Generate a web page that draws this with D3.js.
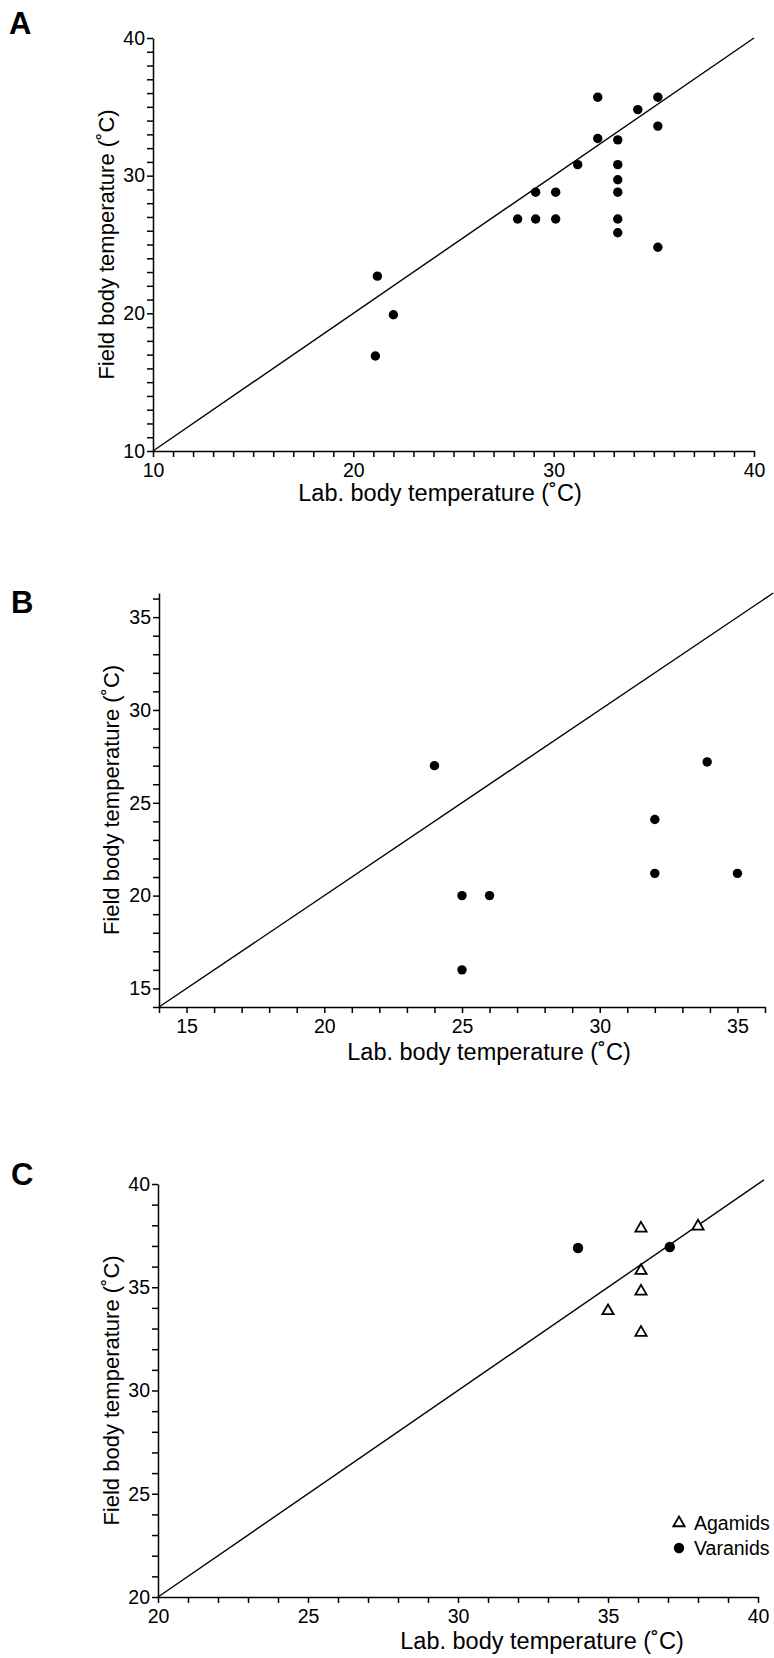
<!DOCTYPE html>
<html>
<head>
<meta charset="utf-8">
<script src="https://cdn.jsdelivr.net/npm/d3@7"></script>
<style>
  body { margin: 0; background: #fff; }
  svg { display: block; font-family: "Liberation Sans", Arial, sans-serif; }
</style>
</head>
<body>
<svg id="chart" width="774" height="1658"></svg>
<script>
// panel A
const aLab = [32.2, 35.2, 34.2, 35.2, 32.2, 33.2, 31.2, 33.2, 33.2, 33.2, 29.1, 30.1, 28.2, 29.1, 30.1, 33.2, 33.2, 35.2, 21.2, 22.0, 21.1];
const aField = [35.7, 35.7, 34.8, 33.6, 32.7, 32.6, 30.8, 30.8, 29.7, 28.8, 28.8, 28.8, 26.85, 26.85, 26.85, 26.85, 25.85, 24.8, 22.7, 19.9, 16.9];
const aTicks = [10, 20, 30, 40];

// panel B
const bLab = [24.0, 25.0, 26.0, 25.0, 33.9, 32.0, 32.0, 35.0];
const bField = [27.0, 20.0, 20.0, 16.0, 27.2, 24.1, 21.2, 21.2];
const bTicks = [15, 20, 25, 30, 35];

// panel C
const agamidLab = [36.1, 38.0, 36.1, 36.1, 35.0, 36.1];
const agamidField = [37.9, 38.0, 35.85, 34.85, 33.9, 32.85];
const varanidLab = [34.0, 37.06];
const varanidField = [36.9, 36.95];
const cTicks = [20, 25, 30, 35, 40];

const legendNames = ["Agamids", "Varanids"];

const svg = d3.select("#chart");
const xTitle = "Lab. body temperature (˚C)";
const yTitle = "Field body temperature (˚C)";

const drawPanel = (p) => {
  const x = d3.scaleLinear().domain(p.xDomain).range(p.xRange);
  const y = d3.scaleLinear().domain(p.yDomain).range(p.yRange);
  const g = svg.append("g");

  const fmt = (d) => (p.ticks.includes(d) ? d : "");

  const xAxis = g
    .append("g")
    .attr("transform", `translate(0,${p.yRange[0]})`)
    .call(
      d3.axisBottom(x)
        .tickValues(d3.range(p.xDomain[0], Math.floor(p.xDomain[1]) + 1))
        .tickFormat(fmt)
        .tickSize(6)
        .tickSizeOuter(0)
        .tickPadding(6)
    );
  const yAxis = g
    .append("g")
    .attr("transform", `translate(${p.xRange[0]},0)`)
    .call(
      d3.axisLeft(y)
        .tickValues(d3.range(p.yDomain[0], Math.floor(p.yDomain[1]) + 1))
        .tickFormat(fmt)
        .tickSize(6)
        .tickSizeOuter(0)
        .tickPadding(2)
    );
  [xAxis, yAxis].forEach((a) => {
    a.selectAll("path, line").attr("stroke", "#000").attr("stroke-width", 1.5);
    a.selectAll("text")
      .attr("fill", "#000")
      .attr("font-size", 19.5)
      .attr("font-family", "Liberation Sans, Arial, sans-serif");
  });

  // identity line
  g.append("line")
    .attr("x1", x(p.line[0]))
    .attr("y1", y(p.line[0]))
    .attr("x2", x(p.line[1]))
    .attr("y2", y(p.line[1]))
    .attr("stroke", "#000")
    .attr("stroke-width", 1.4);

  g.append("text")
    .attr("x", p.labelPos[0])
    .attr("y", p.labelPos[1])
    .attr("font-size", 31)
    .attr("font-weight", "bold")
    .text(p.label);

  g.append("text")
    .attr("x", p.xTitlePos[0])
    .attr("y", p.xTitlePos[1])
    .attr("text-anchor", "middle")
    .attr("dominant-baseline", "central")
    .attr("font-size", 23.5)
    .text(xTitle);

  g.append("text")
    .attr("transform", `translate(${p.yTitleX},${(p.yRange[0] + p.yRange[1]) / 2})rotate(-90)`)
    .attr("text-anchor", "middle")
    .attr("dominant-baseline", "central")
    .attr("font-size", 22)
    .text(yTitle);

  return { g, x, y };
};

const dots = (panel, xs, ys, r) => {
  panel.g
    .selectAll(null)
    .data(xs.map((d, i) => [d, ys[i]]))
    .join("circle")
    .attr("cx", (d) => panel.x(d[0]))
    .attr("cy", (d) => panel.y(d[1]))
    .attr("r", r)
    .attr("fill", "#000");
};

const tri = d3.symbol().type(d3.symbolTriangle).size(55);

const pA = drawPanel({
  label: "A", labelPos: [9, 34],
  xDomain: [10, 40], xRange: [153, 754],
  yDomain: [10, 40], yRange: [451, 38],
  ticks: aTicks, line: [10, 40],
  xTitlePos: [440, 493], yTitleX: 106,
});
dots(pA, aLab, aField, 4.7);

const pB = drawPanel({
  label: "B", labelPos: [11, 613],
  xDomain: [14, 36], xRange: [159, 765],
  yDomain: [14, 36.3], yRange: [1007, 593],
  ticks: bTicks, line: [14, 36.3],
  xTitlePos: [489, 1052], yTitleX: 111,
});
dots(pB, bLab, bField, 4.7);

const pC = drawPanel({
  label: "C", labelPos: [11, 1185],
  xDomain: [20, 40], xRange: [158, 758],
  yDomain: [20, 40], yRange: [1597, 1184],
  ticks: cTicks, line: [20, 40.2],
  xTitlePos: [542, 1641], yTitleX: 111,
});
pC.g
  .selectAll(null)
  .data(agamidLab.map((d, i) => [d, agamidField[i]]))
  .join("path")
  .attr("d", tri)
  .attr("transform", (d) => `translate(${pC.x(d[0])},${pC.y(d[1]) + 1})`)
  .attr("fill", "#fff")
  .attr("stroke", "#000")
  .attr("stroke-width", 1.8);
dots(pC, varanidLab, varanidField, 5.2);

// legend
const legend = pC.g.append("g").attr("transform", "translate(679,1523)");
legend
  .append("path")
  .attr("d", tri)
  .attr("fill", "#fff")
  .attr("stroke", "#000")
  .attr("stroke-width", 1.8);
legend.append("circle").attr("cy", 25).attr("r", 5.2).attr("fill", "#000");
legend
  .selectAll(null)
  .data(legendNames)
  .join("text")
  .attr("x", 15)
  .attr("y", (d, i) => i * 25)
  .attr("dominant-baseline", "central")
  .attr("font-size", 19.5)
  .text((d) => d);
</script>
</body>
</html>
